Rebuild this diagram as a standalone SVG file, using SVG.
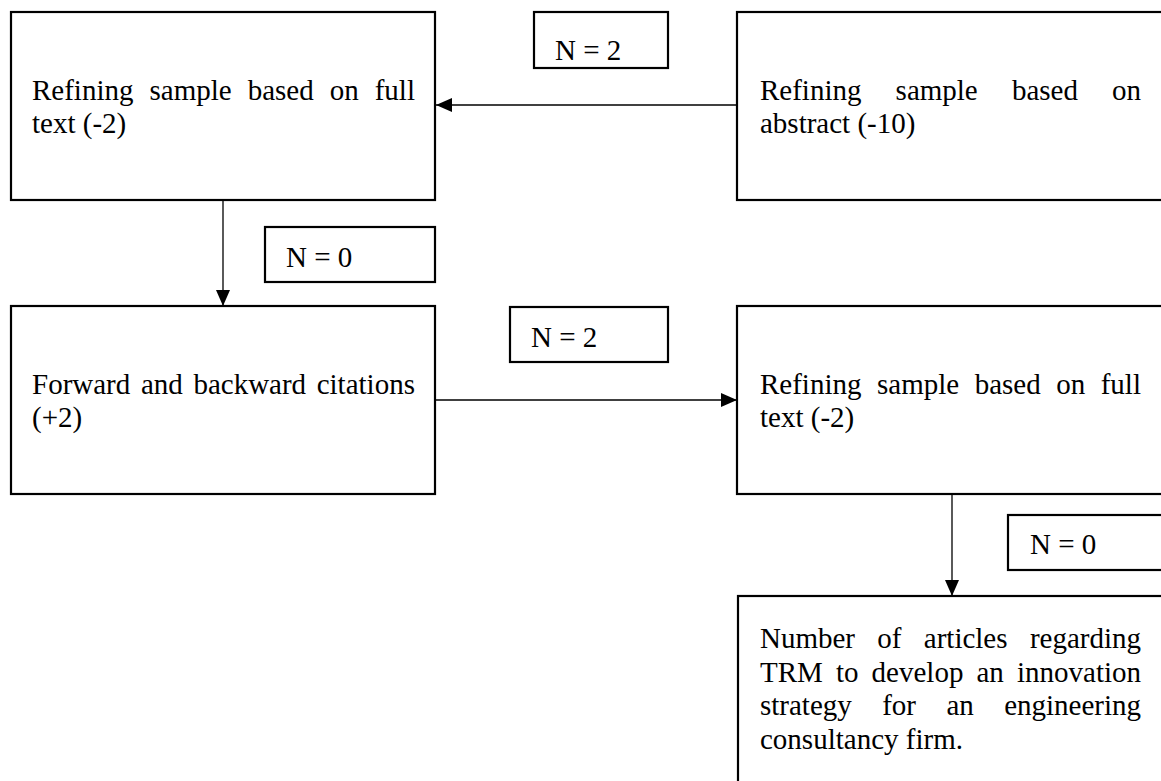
<svg xmlns="http://www.w3.org/2000/svg" width="1161" height="781" viewBox="0 0 1161 781">
  <defs>
    <style>
      .box { fill: #ffffff; stroke: #000000; stroke-width: 2.2; }
      .tag { fill: #ffffff; stroke: #000000; stroke-width: 2.2; }
      .txt { font-family: "Liberation Serif", "Times New Roman", serif; font-size: 29px; fill: #000000; }
      .link { fill: none; stroke: #000000; stroke-width: 1.3; marker-end: url(#head); }
    </style>
    <marker id="head" markerUnits="userSpaceOnUse" markerWidth="17" markerHeight="15" refX="16" refY="7" orient="auto">
      <path d="M0,0 L16,7 L0,14 Z" fill="#000000"/>
    </marker>
  </defs>

  <rect x="0" y="0" width="1161" height="781" fill="#ffffff"/>

  <!-- connectors -->
  <g id="connectors">
    <line class="link" x1="737" y1="105" x2="436" y2="105"/>
    <line class="link" x1="223" y1="201" x2="223" y2="306"/>
    <line class="link" x1="436" y1="400" x2="737" y2="400"/>
    <line class="link" x1="952" y1="494" x2="952" y2="596"/>
  </g>

  <!-- full-text screening, first pass -->
  <g id="fulltext-1">
    <rect class="box" x="11" y="12" width="424" height="188"/>
    <text class="txt" y="100"><tspan x="32">Refining</tspan><tspan x="149.5">sample</tspan><tspan x="247.7">based</tspan><tspan x="329.7">on</tspan><tspan x="374.7">full</tspan></text>
    <text class="txt" x="32" y="133">text (-2)</text>
  </g>

  <!-- abstract screening -->
  <g id="abstract">
    <rect class="box" x="737" y="12" width="430" height="188"/>
    <text class="txt" y="100"><tspan x="760">Refining</tspan><tspan x="895.6">sample</tspan><tspan x="1011.9">based</tspan><tspan x="1112">on</tspan></text>
    <text class="txt" x="760" y="133">abstract (-10)</text>
  </g>

  <g id="count-a">
    <rect class="tag" x="534" y="12" width="134" height="56"/>
    <text class="txt" x="555" y="60">N = 2</text>
  </g>

  <g id="count-b">
    <rect class="tag" x="265" y="227" width="170" height="55"/>
    <text class="txt" x="286" y="267">N = 0</text>
  </g>

  <!-- citation snowballing -->
  <g id="citations">
    <rect class="box" x="11" y="306" width="424" height="188"/>
    <text class="txt" y="394"><tspan x="32">Forward</tspan><tspan x="140.9">and</tspan><tspan x="193.4">backward</tspan><tspan x="316.7">citations</tspan></text>
    <text class="txt" x="32" y="427">(+2)</text>
  </g>

  <g id="count-c">
    <rect class="tag" x="510" y="307" width="158" height="55"/>
    <text class="txt" x="531" y="347">N = 2</text>
  </g>

  <!-- full-text screening, second pass -->
  <g id="fulltext-2">
    <rect class="box" x="737" y="306" width="430" height="188"/>
    <text class="txt" y="394"><tspan x="760">Refining</tspan><tspan x="877">sample</tspan><tspan x="974.7">based</tspan><tspan x="1056.2">on</tspan><tspan x="1100.7">full</tspan></text>
    <text class="txt" x="760" y="427">text (-2)</text>
  </g>

  <g id="count-d">
    <rect class="tag" x="1008" y="515" width="160" height="55"/>
    <text class="txt" x="1030" y="554">N = 0</text>
  </g>

  <!-- final result -->
  <g id="result">
    <rect class="box" x="738" y="596" width="430" height="200"/>
    <text class="txt" y="648"><tspan x="760">Number</tspan><tspan x="877.3">of</tspan><tspan x="923.8">articles</tspan><tspan x="1029.9">regarding</tspan></text>
    <text class="txt" y="681.5"><tspan x="760">TRM</tspan><tspan x="835.9">to</tspan><tspan x="871.6">develop</tspan><tspan x="976.5">an</tspan><tspan x="1017">innovation</tspan></text>
    <text class="txt" y="715"><tspan x="760">strategy</tspan><tspan x="882.2">for</tspan><tspan x="946.4">an</tspan><tspan x="1004.2">engineering</tspan></text>
    <text class="txt" x="760" y="748.5">consultancy firm.</text>
  </g>
</svg>
